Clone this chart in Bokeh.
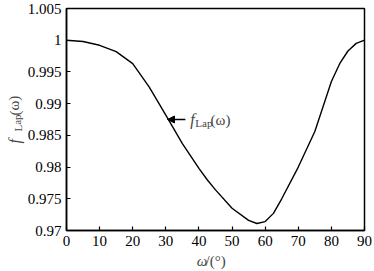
from bokeh.plotting import figure
from bokeh.models import FixedTicker, Range1d, Label, Arrow, NormalHead, LinearAxis
from bokeh.embed import file_html
from bokeh.resources import INLINE

omega = [0, 5, 10, 15, 20, 25, 30, 35, 40, 42.5, 45, 50, 55, 57.5, 60, 62.5, 65, 70, 75, 80, 82.5, 85, 87.5, 90]
f_lap = [1.0, 0.9998, 0.9992, 0.9982, 0.9963, 0.9926, 0.9882, 0.9837, 0.9798, 0.9780, 0.9764,
         0.9735, 0.9716, 0.9711, 0.9714, 0.9727, 0.9750, 0.9800, 0.9856, 0.9935, 0.9963, 0.9983,
         0.9995, 1.0]
x_ticks = [0, 10, 20, 30, 40, 50, 60, 70, 80, 90]
y_ticks = [0.97, 0.975, 0.98, 0.985, 0.99, 0.995, 1.0, 1.005]
y_tick_labels = ["0.97", "0.975", "0.98", "0.985", "0.99", "0.995", "1", "1.005"]

FONT = "Liberation Serif"
W, H = 374, 271
# plot box position inside the canvas (pixels)
L, R, T, B = 66, 10, 8, 41
xmin, xmax = x_ticks[0], x_ticks[-1]
ymin, ymax = y_ticks[0], y_ticks[-1]
dx = (xmax - xmin) / (W - L - R)
dy = (ymax - ymin) / (H - T - B)

p = figure(width=W, height=H, output_backend="svg", toolbar_location=None,
           x_range=Range1d(xmin - L * dx, xmax + R * dx),
           y_range=Range1d(ymin - B * dy, ymax + T * dy),
           x_axis_location=None, y_axis_location=None,
           min_border=0)
p.background_fill_color = "white"
p.border_fill_color = "white"
p.grid.visible = False
p.outline_line_color = None

# plot box
p.quad(left=[xmin], right=[xmax], bottom=[ymin], top=[ymax], fill_color=None,
       line_color="black", line_width=1.5)

p.line(omega, f_lap, line_color="black", line_width=1.4)

xa = LinearAxis(fixed_location=ymin, bounds=(xmin, xmax), ticker=FixedTicker(ticks=x_ticks))
ya = LinearAxis(fixed_location=xmin, bounds=(ymin, ymax), ticker=FixedTicker(ticks=y_ticks))
ya.major_label_overrides = {t: s for t, s in zip(y_ticks, y_tick_labels)}
for ax in (xa, ya):
    ax.axis_line_width = 1.5
    ax.major_label_text_font = FONT
    ax.major_label_text_font_size = "15px"
    ax.major_label_text_color = "black"
    ax.minor_tick_line_color = None
    ax.major_tick_out = 0
    ax.major_tick_in = 4
    ax.major_tick_line_color = "black"
    ax.major_tick_line_width = 1.2
xa.major_label_standoff = 5
ya.major_label_standoff = 5
p.add_layout(xa, "below")
p.add_layout(ya, "left")

# x-axis label
p.add_layout(Label(x=39.3, y=ymin - 30 * dy, text="ω", text_font=FONT, text_font_size="15px",
                   text_font_style="italic", text_align="left", text_baseline="middle"))
p.add_layout(Label(x=42.0, y=ymin - 30 * dy, text="/(°)", text_font=FONT, text_font_size="15px",
                   text_align="left", text_baseline="middle"))

# y-axis label (rotated)
p.add_layout(Label(x=xmin - 52 * dx, y=0.98372, text="f", text_font=FONT, text_font_size="16px",
                   text_font_style="italic", angle=1.5708, text_align="left", text_baseline="middle"))
p.add_layout(Label(x=xmin - 49 * dx, y=0.98561, text="Lap", text_font=FONT, text_font_size="11px",
                   angle=1.5708, text_align="left", text_baseline="middle"))
p.add_layout(Label(x=xmin - 52 * dx, y=0.98813, text="(ω)", text_font=FONT, text_font_size="15px",
                   angle=1.5708, text_align="left", text_baseline="middle"))

# annotation arrow and label
ya_ann = 0.9875
p.add_layout(Arrow(end=NormalHead(size=7, fill_color="black", line_color="black"),
                   x_start=35.9, y_start=ya_ann, x_end=30.5, y_end=ya_ann,
                   line_color="black", line_width=1.3))
p.add_layout(Label(x=37.4, y=ya_ann, text="f", text_font=FONT, text_font_size="16px",
                   text_font_style="italic", text_align="left", text_baseline="middle"))
p.add_layout(Label(x=38.9, y=ya_ann - 3 * dy, text="Lap", text_font=FONT, text_font_size="11px",
                   text_align="left", text_baseline="middle"))
p.add_layout(Label(x=43.5, y=ya_ann, text="(ω)", text_font=FONT, text_font_size="15px",
                   text_align="left", text_baseline="middle"))

open("out.html", "w").write(file_html(p, INLINE))
